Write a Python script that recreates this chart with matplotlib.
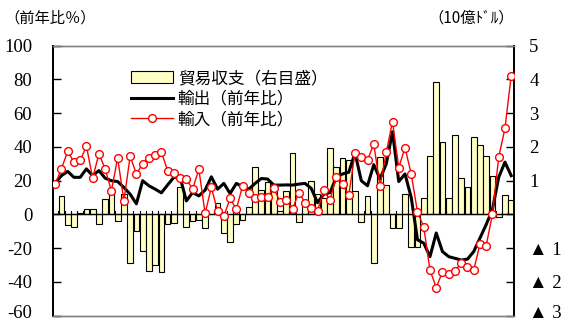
import matplotlib
matplotlib.use("Agg")
import matplotlib.pyplot as plt
import matplotlib.transforms as mtransforms
import numpy as np

# ---- data (monthly, 74 points) ----
balance = [0.0, 0.55, -0.32, -0.37, 0.04, 0.15, 0.15, -0.27, 0.45, 0.65,
           -0.18, 0.6, -1.45, -0.5, -1.08, -1.67, -1.5, -1.72, -0.27, -0.26,
           0.82, -0.37, -0.2, -0.17, -0.41, 0.0, 0.33, -0.54, -0.81, -0.27,
           -0.17, 0.23, 1.41, 0.72, 0.97, 0.85, 0.1, 0.7, 1.81, -0.22,
           0.42, 1.0, 0.6, 0.5, 1.96, 1.41, 1.66, 1.6, 0.7, -0.22,
           0.54, -1.45, 1.7, 0.87, -0.41, -0.41, 0.6, -0.97, -0.97, 0.5,
           1.72, 3.93, 2.15, 0.49, 2.35, 1.09, 0.82, 2.3, 2.07, 1.73,
           1.14, -0.09, 0.59, 0.44]
exports = [18.5, 23, 25.5, 22, 22, 27, 23, 26, 21.5, 20,
           19.5, 16, 12, 6.3, 20, 17, 15, 12.8, 17.5, 22,
           22, 8, 13, 11, 14.4, 22.3, 15, 18.4, 12.4, 18.4,
           16.4, 15, 18.4, 21.3, 21, 17.4, 17.4, 17.5, 17.4, 18,
           18.4, 15.4, 7, 12, 13, 22, 24, 25, 36.5, 20,
           17, 29.5, 21, 30, 49, 19.5, 24, 10, -15, -17,
           -25, -11, -22, -25, -26, -27, -26.5, -22, -14, -6,
           3, 22, 31, 23]
imports = [18, 27, 37.5, 31, 32, 40.5, 21.5, 36, 27, 14,
           33.5, 8, 34.5, 24, 30, 33.5, 35, 37, 26, 24.7,
           21.5, 21, 15, 26.7, 0.6, 16, 2, -1, 9.5, 3,
           17, 12.7, 10, 10.5, 10.5, 15.5, 7.5, 8.5, 3.2, 13,
           7, 4, 2.3, 14.2, 8.7, 22.3, 18, 11.4, 36.5, 34.2,
           32.2, 41.8, 16.8, 36.8, 55, 27.8, 39.6, 23.9, 1.4, -7.3,
           -33, -43.3, -34, -35, -33.6, -28.5, -31.4, -33, -17.6, -18.4,
           0.2, 33.8, 51, 82.2]

left_ticks = [100, 80, 60, 40, 20, 0, -20, -40, -60]
right_ticks = [5, 4, 3, 2, 1, 0, -1, -2, -3]
right_labels = ["5", "4", "3", "2", "1", "", "▲ 1", "▲ 2", "▲ 3"]
labels = ["貿易収支（右目盛）", "輸出（前年比）", "輸入（前年比）"]

plt.rcParams['axes.unicode_minus'] = False
SERIF = ['Liberation Serif', 'Noto Sans CJK JP']
JP = ['Noto Sans CJK JP', 'DejaVu Sans']

fig = plt.figure(figsize=(5.63, 3.23), dpi=100)
ax = fig.add_axes([53/563, 1-315.7/323, (514-53)/563, (315.7-45.7)/323])
ax2 = ax.twinx()

x = np.arange(len(exports))
xb = np.arange(len(balance))

ax2.bar(xb, balance, width=0.92, facecolor='#FFFFC6', edgecolor='black',
        linewidth=0.8, label=labels[0], zorder=1)
ax2.set_ylim(-3, 5)
ax.set_ylim(-60, 100)
ax.set_xlim(-0.35, 73.45)

ax.set_zorder(ax2.get_zorder() + 1)
ax.patch.set_visible(False)
l1, = ax.plot(x, exports, color='black', lw=2.2, label=labels[1], zorder=3)
l2, = ax.plot(x, imports, color='red', lw=1.0, marker='o', ms=5.6,
              mfc='white', mec='red', mew=1.0, label=labels[2], zorder=4)
ax.axhline(0, color='black', lw=1.0, zorder=2)

ax.set_yticks(left_ticks)
ax.set_yticklabels([str(v) for v in left_ticks], family=SERIF, fontsize=13.5)
ax.tick_params(axis='y', direction='in', length=6, width=1.0, pad=15)
ax2.set_yticks(right_ticks)
ax2.set_yticklabels(right_labels, family=SERIF, fontsize=13.5)
ax2.tick_params(axis='y', direction='in', length=6, width=1.0, pad=11)
for t in ax2.get_yticklabels():
    t.set_horizontalalignment('left')
shift = mtransforms.ScaledTranslation(0, 3/72, fig.dpi_scale_trans)
for t in list(ax.get_yticklabels()) + list(ax2.get_yticklabels()):
    if t.get_text() in ('-60', '▲ 3'):
        t.set_transform(t.get_transform() + shift)
ax.set_xticks([])
ax2.set_xticks([])

for xi in np.arange(0.5, 73.5, 1.0):
    ax.plot([xi, xi], [0, 2.3], color='black', lw=0.8, zorder=2)

for a in (ax, ax2):
    a.spines['top'].set_color('#808080')
    a.spines['bottom'].set_color('#808080')
    a.spines['top'].set_linewidth(1.0)
    a.spines['bottom'].set_linewidth(1.0)
    a.spines['left'].set_linewidth(1.3)
    a.spines['right'].set_linewidth(1.3)

bars = ax2.containers[0]
leg = ax.legend([bars, l1, l2], labels, loc='upper left',
                bbox_to_anchor=(0.155, 0.935), frameon=False,
                prop={'family': JP, 'size': 12}, handlelength=2.5,
                handletextpad=0.3, labelspacing=0.22, borderaxespad=0)

fig.text(4/563, 1-18/323, "（前年比％）", family=JP, fontsize=11, va='center', ha='left')
fig.text(514/563, 1-18/323, "（10億ﾄﾞﾙ）", family=JP, fontsize=11, va='center', ha='right')

fig.savefig('out.png', dpi=100)
